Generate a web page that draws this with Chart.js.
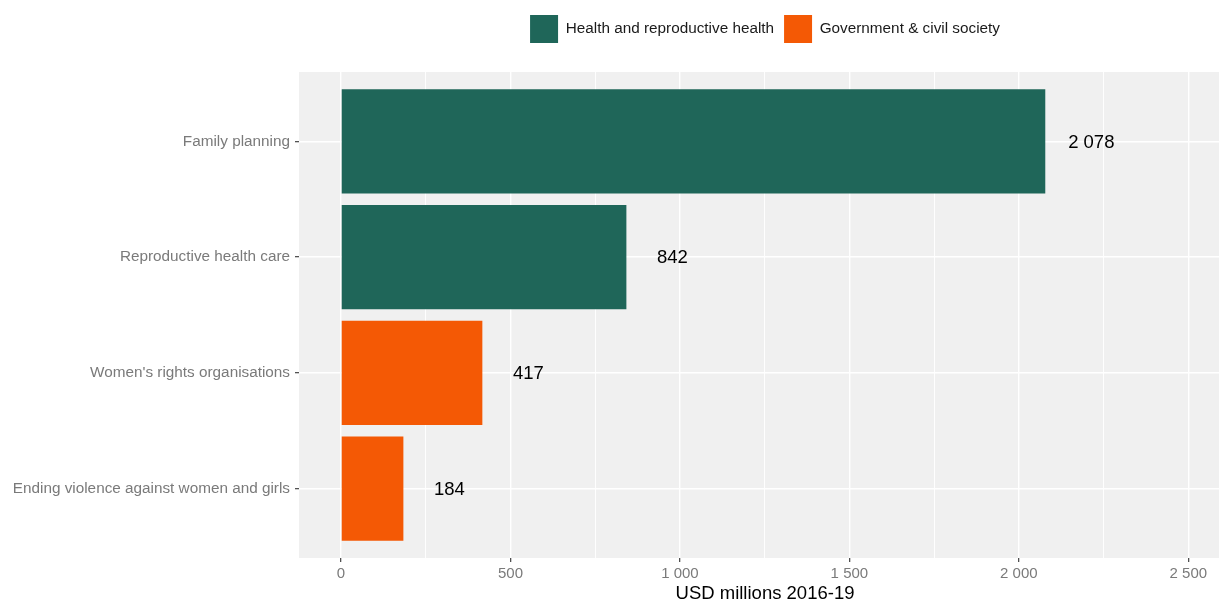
<!DOCTYPE html>
<html>
<head>
<meta charset="utf-8">
<script src="https://cdn.jsdelivr.net/npm/chart.js@4/dist/chart.umd.min.js"></script>
<style>
  html, body { margin: 0; padding: 0; background: #ffffff; overflow: hidden; }
  #wrap { width: 1231px; height: 600px; }
</style>
</head>
<body>
<div id="wrap"><canvas id="chart" width="1231" height="600"></canvas></div>
<script>
// Aid categories, top to bottom
const categories = [
  'Family planning',
  'Reproductive health care',
  "Women's rights organisations",
  'Ending violence against women and girls'
];
// Sector groups and which categories belong to each
const groupNames = ['Health and reproductive health', 'Government & civil society'];
const healthIdx = [0, 1];
const healthValues = [2078, 842];
const govIdx = [2, 3];
const govValues = [417, 184];
// x-axis ticks (USD millions)
const xTicks = [0, 250, 500, 750, 1000, 1250, 1500, 1750, 2000, 2250, 2500];
const xTitle = 'USD millions 2016-19';

const FONT = "'Liberation Sans', Arial, sans-serif";
const GREEN = '#1f6659';
const ORANGE = '#f45905';

const fmt = v => String(Math.round(v)).replace(/\B(?=(\d{3})+(?!\d))/g, ' ');

// grey panel behind the plotting area
const panelBg = {
  id: 'panelBg',
  beforeDraw(chart) {
    const {ctx, chartArea: a} = chart;
    ctx.save();
    ctx.fillStyle = '#f0f0f0';
    ctx.fillRect(a.left, a.top, a.right - a.left, a.bottom - a.top);
    ctx.restore();
  }
};

// value labels to the right of each bar
const valueLabels = {
  id: 'valueLabels',
  afterDatasetsDraw(chart) {
    const {ctx} = chart;
    const xs = chart.scales.x;
    ctx.save();
    ctx.font = '18.5px ' + FONT;
    ctx.fillStyle = '#000000';
    ctx.textAlign = 'center';
    ctx.textBaseline = 'middle';
    chart.data.datasets.forEach((ds, di) => {
      const meta = chart.getDatasetMeta(di);
      meta.data.forEach((el, i) => {
        const v = ds.data[i].x;
        ctx.fillText(fmt(v), xs.getPixelForValue(v) + 46, el.y + 1);
      });
    });
    ctx.restore();
  }
};

// extra room between the legend and the panel
const legendGap = {
  id: 'legendGap',
  beforeInit(chart) {
    const origFit = chart.legend.fit;
    chart.legend.fit = function () {
      origFit.call(this);
      this.height += 19;
    };
  }
};

new Chart(document.getElementById('chart'), {
  type: 'bar',
  data: {
    datasets: [
      {
        label: groupNames[0],
        data: healthIdx.map((c, i) => ({x: healthValues[i], y: c})),
        backgroundColor: GREEN,
        borderWidth: 0
      },
      {
        label: groupNames[1],
        data: govIdx.map((c, i) => ({x: govValues[i], y: c})),
        backgroundColor: ORANGE,
        borderWidth: 0
      }
    ]
  },
  options: {
    indexAxis: 'y',
    responsive: false,
    animation: false,
    grouped: false,
    categoryPercentage: 0.9,
    barPercentage: 1,
    layout: { padding: { top: 5, left: 0, right: 0, bottom: 0 } },
    plugins: {
      tooltip: { enabled: false },
      legend: {
        position: 'top',
        fullSize: false,
        labels: {
          boxWidth: 28,
          boxHeight: 28,
          padding: 10,
          color: '#1a1a1a',
          font: { family: FONT, size: 15.3 }
        }
      }
    },
    scales: {
      x: {
        type: 'linear',
        min: -124,
        max: 2626,
        border: { display: false },
        afterBuildTicks(scale) { scale.ticks = xTicks.map(v => ({value: v})); },
        afterFit(scale) { scale.height = 42; },
        grid: {
          color: '#ffffff',
          lineWidth: ctx => (ctx.tick && ctx.tick.value % 500 === 0) ? 1.4 : 0.9,
          tickColor: ctx => (ctx.tick && ctx.tick.value % 500 === 0) ? '#333333' : 'rgba(0,0,0,0)',
          tickLength: 4,
          tickWidth: 1.1
        },
        ticks: {
          autoSkip: false,
          maxRotation: 0,
          padding: 3,
          color: '#7a7a7a',
          font: { family: FONT, size: 15 },
          callback: v => (v % 500 === 0 ? fmt(v) : '')
        },
        title: {
          display: true,
          text: xTitle,
          color: '#000000',
          font: { family: FONT, size: 18.5 },
          padding: { top: 0, bottom: -5 }
        }
      },
      y: {
        type: 'linear',
        reverse: true,
        offset: false,
        min: -0.6,
        max: 3.6,
        border: { display: false },
        afterBuildTicks(scale) { scale.ticks = categories.map((_, i) => ({value: i})); },
        afterFit(scale) { scale.width = 299; },
        grid: {
          offset: false,
          color: '#ffffff',
          lineWidth: 1.4,
          tickColor: '#333333',
          tickLength: 4,
          tickWidth: 1.1
        },
        ticks: {
          autoSkip: false,
          padding: 5,
          color: '#7a7a7a',
          font: { family: FONT, size: 15.3 },
          callback: v => categories[v]
        }
      }
    }
  },
  plugins: [panelBg, valueLabels, legendGap]
});
</script>
</body>
</html>
